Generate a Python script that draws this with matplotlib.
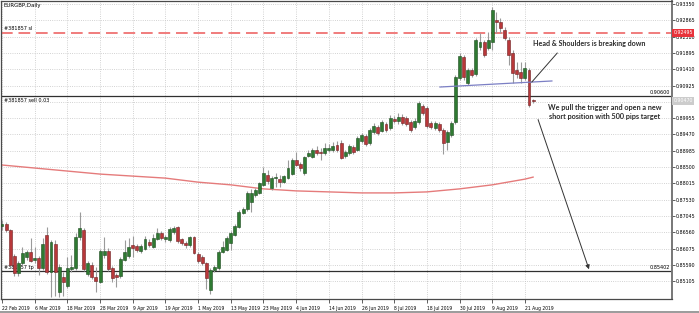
import matplotlib.pyplot as plt
import matplotlib.transforms as mtransforms
import numpy as np

# EURGBP daily candles, 22 Feb 2019 -> 23 Aug 2019
opens = [0.8674, 0.8680, 0.8663, 0.8585, 0.8535, 0.8564, 0.8582, 0.8597, 0.8573, 0.8579,
         0.8550, 0.8648, 0.8538, 0.8621, 0.8478, 0.8523, 0.8496, 0.8547, 0.8550, 0.8642,
         0.8663, 0.8532, 0.8558, 0.8523, 0.8508, 0.8588, 0.8600, 0.8550, 0.8529, 0.8526,
         0.8573, 0.8585, 0.8618, 0.8615, 0.8600, 0.8606, 0.8627, 0.8612, 0.8636, 0.8654,
         0.8636, 0.8633, 0.8657, 0.8672, 0.8636, 0.8624, 0.8618, 0.8642, 0.8591, 0.8582,
         0.8564, 0.8484, 0.8544, 0.8550, 0.8597, 0.8603, 0.8624, 0.8648, 0.8672, 0.8713,
         0.8725, 0.8746, 0.8767, 0.8773, 0.8797, 0.8826, 0.8788, 0.8817, 0.8814, 0.8805,
         0.8817, 0.8829, 0.8871, 0.8859, 0.8832, 0.8883, 0.8880, 0.8901, 0.8895, 0.8892,
         0.8901, 0.8901, 0.8916, 0.8922, 0.8883, 0.8892, 0.8910, 0.8901, 0.8927, 0.8942,
         0.8921, 0.8954, 0.8969, 0.8957, 0.8978, 0.8966, 0.8993, 0.8987, 0.8999, 0.8996,
         0.8984, 0.8969, 0.8984, 0.9032, 0.9026, 0.8981, 0.8966, 0.8978, 0.8960, 0.8924,
         0.8945, 0.8984, 0.9115, 0.9177, 0.9100, 0.9139, 0.9127, 0.9207, 0.9222, 0.9204,
         0.9222, 0.9287, 0.9281, 0.9258, 0.9228, 0.9189, 0.9139, 0.9133, 0.9115, 0.9139,
         0.9049]
highs = [0.8692, 0.8686, 0.8666, 0.8591, 0.8570, 0.8612, 0.8603, 0.8639, 0.8612, 0.8585,
         0.8639, 0.8672, 0.8633, 0.8633, 0.8561, 0.8538, 0.8582, 0.8588, 0.8654, 0.8716,
         0.8669, 0.8570, 0.8567, 0.8553, 0.8606, 0.8642, 0.8609, 0.8556, 0.8535, 0.8582,
         0.8633, 0.8639, 0.8645, 0.8621, 0.8621, 0.8645, 0.8636, 0.8651, 0.8669, 0.8660,
         0.8648, 0.8672, 0.8675, 0.8675, 0.8639, 0.8630, 0.8645, 0.8645, 0.8597, 0.8588,
         0.8567, 0.8550, 0.8558, 0.8603, 0.8630, 0.8645, 0.8660, 0.8680, 0.8722, 0.8731,
         0.8779, 0.8785, 0.8788, 0.8806, 0.8850, 0.8841, 0.8823, 0.8832, 0.8826, 0.8826,
         0.8871, 0.8877, 0.8895, 0.8865, 0.8883, 0.8901, 0.8907, 0.8913, 0.8907, 0.8922,
         0.8919, 0.8925, 0.8928, 0.8930, 0.8901, 0.8919, 0.8916, 0.8942, 0.8951, 0.8948,
         0.8966, 0.8981, 0.8975, 0.8990, 0.8984, 0.9005, 0.9002, 0.9011, 0.9008, 0.9002,
         0.8990, 0.8996, 0.9047, 0.9038, 0.9032, 0.8987, 0.8987, 0.8984, 0.8966, 0.8960,
         0.8987, 0.9124, 0.9189, 0.9183, 0.9145, 0.9145, 0.9234, 0.9249, 0.9228, 0.9252,
         0.9326, 0.9311, 0.9293, 0.9267, 0.9237, 0.9198, 0.9163, 0.9163, 0.9163, 0.9145,
         0.9052]
lows = [0.8663, 0.8657, 0.8555, 0.8526, 0.8526, 0.8558, 0.8573, 0.8567, 0.8564, 0.8529,
        0.8544, 0.8532, 0.8463, 0.8466, 0.8463, 0.8466, 0.8490, 0.8538, 0.8544, 0.8633,
        0.8541, 0.8526, 0.8517, 0.8478, 0.8505, 0.8579, 0.8541, 0.8508, 0.8493, 0.8520,
        0.8570, 0.8579, 0.8582, 0.8597, 0.8594, 0.8603, 0.8612, 0.8609, 0.8633, 0.8633,
        0.8627, 0.8627, 0.8651, 0.8624, 0.8618, 0.8609, 0.8612, 0.8591, 0.8564, 0.8558,
        0.8487, 0.8472, 0.8538, 0.8544, 0.8594, 0.8600, 0.8603, 0.8645, 0.8669, 0.8710,
        0.8719, 0.8716, 0.8761, 0.8770, 0.8794, 0.8800, 0.8782, 0.8791, 0.8791, 0.8802,
        0.8814, 0.8826, 0.8853, 0.8838, 0.8826, 0.8880, 0.8877, 0.8886, 0.8871, 0.8886,
        0.8895, 0.8895, 0.8895, 0.8874, 0.8877, 0.8886, 0.8889, 0.8898, 0.8921, 0.8913,
        0.8916, 0.8948, 0.8945, 0.8954, 0.8954, 0.8960, 0.8981, 0.8978, 0.8975, 0.8972,
        0.8954, 0.8963, 0.8978, 0.9005, 0.8966, 0.8963, 0.8960, 0.8954, 0.8889, 0.8901,
        0.8939, 0.8978, 0.9109, 0.9109, 0.9094, 0.9118, 0.9121, 0.9198, 0.9177, 0.9198,
        0.9198, 0.9249, 0.9249, 0.9228, 0.9153, 0.9100, 0.9115, 0.9100, 0.9109, 0.9029,
        0.9041]
closes = [0.8680, 0.8663, 0.8558, 0.8535, 0.8564, 0.8594, 0.8597, 0.8570, 0.8579, 0.8550,
          0.8621, 0.8538, 0.8627, 0.8538, 0.8553, 0.8508, 0.8550, 0.8553, 0.8642, 0.8669,
          0.8547, 0.8564, 0.8523, 0.8511, 0.8600, 0.8600, 0.8547, 0.8520, 0.8523, 0.8576,
          0.8597, 0.8612, 0.8609, 0.8603, 0.8615, 0.8636, 0.8618, 0.8639, 0.8654, 0.8639,
          0.8642, 0.8666, 0.8669, 0.8630, 0.8624, 0.8618, 0.8642, 0.8594, 0.8570, 0.8564,
          0.8520, 0.8544, 0.8553, 0.8597, 0.8612, 0.8639, 0.8654, 0.8674, 0.8716, 0.8725,
          0.8773, 0.8773, 0.8782, 0.8803, 0.8832, 0.8809, 0.8817, 0.8820, 0.8805, 0.8823,
          0.8847, 0.8871, 0.8856, 0.8847, 0.8880, 0.8892, 0.8901, 0.8892, 0.8892, 0.8907,
          0.8907, 0.8913, 0.8901, 0.8877, 0.8895, 0.8913, 0.8895, 0.8936, 0.8945, 0.8918,
          0.8960, 0.8972, 0.8951, 0.8984, 0.8960, 0.8996, 0.8987, 0.8999, 0.8981, 0.8978,
          0.8960, 0.8987, 0.9041, 0.9011, 0.8972, 0.8969, 0.8981, 0.8960, 0.8921, 0.8954,
          0.8981, 0.9118, 0.9180, 0.9118, 0.9139, 0.9124, 0.9228, 0.9222, 0.9183, 0.9228,
          0.9317, 0.9281, 0.9264, 0.9234, 0.9183, 0.9130, 0.9127, 0.9115, 0.9145, 0.9035,
          0.9047]

# 200-day moving average, read every 8 bars (+ last bar)
ma_bars = [0, 8, 16, 24, 32, 40, 48, 56, 64, 72, 80, 88, 96, 104, 112, 120, 128, 130]
ma_vals = [0.8856, 0.8847, 0.8838, 0.8829, 0.8823, 0.8817, 0.8805, 0.8797, 0.8785,
           0.8779, 0.8776, 0.8773, 0.8773, 0.8776, 0.8785, 0.8797, 0.8814, 0.8820]

date_ticks = [0, 8, 16, 24, 32, 40, 48, 56, 64, 72, 80, 88, 96, 104, 112, 120, 128]
date_labels = ["22 Feb 2019", "6 Mar 2019", "18 Mar 2019", "28 Mar 2019", "9 Apr 2019",
               "19 Apr 2019", "1 May 2019", "13 May 2019", "23 May 2019", "4 Jun 2019",
               "14 Jun 2019", "26 Jun 2019", "8 Jul 2019", "18 Jul 2019", "30 Jul 2019",
               "9 Aug 2019", "21 Aug 2019"]
price_ticks = [0.93350, 0.92865, 0.92380, 0.91895, 0.91410, 0.90925, 0.90440, 0.89955,
               0.89470, 0.88985, 0.88500, 0.88015, 0.87530, 0.87045, 0.86560, 0.86075,
               0.85590, 0.85105]

sl_level = 0.92495
entry_level = 0.90600
tp_level = 0.85402
bid_level = 0.90470

small = dict(family=['Liberation Sans Narrow', 'DejaVu Sans'], stretch='condensed')
note_font = ['Liberation Sans Narrow', 'Lato', 'DejaVu Sans']

fig = plt.figure(figsize=(6.99, 3.13), dpi=100)
ax = fig.add_axes([1 / 699, 14 / 313, 671 / 699, 298 / 313])

o = np.array(opens)
h = np.array(highs)
l = np.array(lows)
c = np.array(closes)
idx = np.arange(len(c))
up = c >= o

ax.vlines(idx, l, h, color='#9a9a9a', lw=0.8, zorder=3)
body = np.maximum(np.abs(c - o), 0.00008)
ax.bar(idx[up], body[up], bottom=np.minimum(o, c)[up], width=0.72,
       color='#2f7a32', edgecolor='#1d4a1f', lw=0.4, zorder=4)
ax.bar(idx[~up], body[~up], bottom=np.minimum(o, c)[~up], width=0.72,
       color='#b8383a', edgecolor='#6e2022', lw=0.4, zorder=4)

ax.plot(ma_bars, ma_vals, color='#e57b7b', lw=1.0, zorder=2)

# order lines
ax.axhline(sl_level, color='#f07c7c', lw=1.4, ls=(0, (6, 3)), zorder=2)
ax.axhline(entry_level, color='#303030', lw=0.9, zorder=2)
ax.axhline(tp_level, color='#303030', lw=0.9, zorder=2)

lt = mtransforms.blended_transform_factory(ax.transAxes, ax.transData)
ax.text(0.0045, sl_level + 0.0006, "#381857 sl", transform=lt, fontsize=4.0,
        va='bottom', ha='left', **small)
ax.text(0.0045, entry_level - 0.0004, "#381857 sell 0.03", transform=lt, fontsize=4.0,
        va='top', ha='left', **small)
ax.text(0.0045, tp_level + 0.0003, "#381857 tp", transform=lt, fontsize=4.0,
        va='bottom', ha='left', zorder=1, **small)
ax.text(0.997, entry_level + 0.0003, "0.90600", transform=lt, fontsize=4.0,
        va='bottom', ha='right', **small)
ax.text(0.997, tp_level + 0.0003, "0.85402", transform=lt, fontsize=4.0,
        va='bottom', ha='right', **small)
ax.text(0.003, 0.993, "EURGBP,Daily", transform=ax.transAxes, fontsize=4.3,
        va='top', ha='left', **small)

# axis price boxes
ax.text(1.002, sl_level, "0.92495", transform=lt, fontsize=3.8, color='white',
        va='center', ha='left', clip_on=False, zorder=6,
        bbox=dict(boxstyle='square,pad=0.3', fc='#e8323a', ec='none'), **small)
ax.text(1.002, bid_level, "0.90470", transform=lt, fontsize=3.8, color='white',
        va='center', ha='left', clip_on=False, zorder=6,
        bbox=dict(boxstyle='square,pad=0.3', fc='#cccccc', ec='none'), **small)

# head & shoulders neckline and notes
ax.plot([107.2, 134.6], [0.9088, 0.9106], color='#7b7fc4', lw=0.9, zorder=5)
ax.plot([129.7, 135.9], [0.9103, 0.9189], color='#333333', lw=0.7, zorder=5)
ax.text(130.0, 0.9216, "Head & Shoulders is breaking down", fontsize=5.1,
        family=note_font, weight='bold', color='#2b2b2b', va='center', ha='left',
        zorder=6)
ax.text(147.6, 0.9014, "We pull the trigger and open a new\nshort position with 500 pips target",
        fontsize=5.2, family=note_font, weight='bold', color='#2b2b2b',
        va='center', ha='center', linespacing=1.3, zorder=6)
ax.annotate("", xy=(143.9, 0.8538), xytext=(131.0, 0.8999),
            arrowprops=dict(arrowstyle='-|>', color='#333333', lw=0.7,
                            mutation_scale=6), zorder=6)

ax.set_xlim(-0.245, 164.0)
ax.set_ylim(0.84574, 0.93439)

ax.set_xticks(date_ticks)
ax.set_xticklabels(date_labels, ha='left', fontsize=3.6, **small)
ax.yaxis.tick_right()
ax.set_yticks(price_ticks)
ytl = [f"{v:.5f}" for v in price_ticks]
ytl[price_ticks.index(0.90440)] = ""  # hidden behind the bid box
ax.set_yticklabels(ytl, fontsize=3.8, **small)
ax.tick_params(axis='x', length=3, width=0.6, pad=2, color='#444444')
ax.tick_params(axis='y', length=2, width=0.6, pad=1, color='#444444')

ax.grid(True, color='#c4c4c4', ls=':', lw=0.6)
ax.set_axisbelow(True)
for side, sp in ax.spines.items():
    sp.set_color('#4a4a4a')
    sp.set_linewidth(0.9)
ax.spines['right'].set_color('#777777')
ax.spines['right'].set_linewidth(1.4)

fig.add_artist(plt.Line2D([0, 1], [1.5 / 313, 1.5 / 313], color='#8a8a8a', lw=1.2))

fig.savefig('out.png', dpi=100, facecolor='white')
